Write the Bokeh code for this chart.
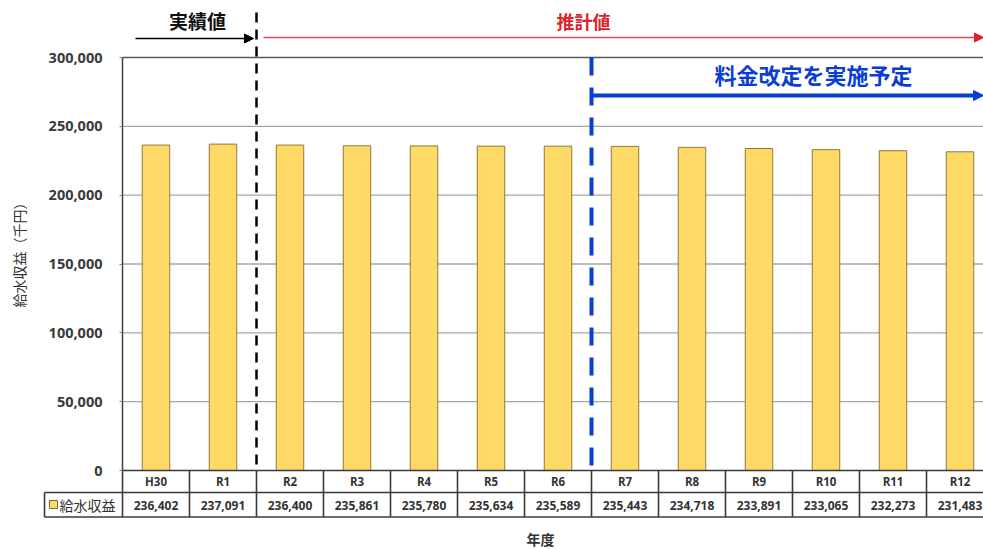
from bokeh.plotting import figure
from bokeh.models import Range1d, FixedTicker, NumeralTickFormatter, Arrow, NormalHead, ColumnDataSource
from bokeh.core.properties import value
from bokeh.embed import file_html
from bokeh.resources import INLINE
import math

# ---- data ----
categories = ["H30", "R1", "R2", "R3", "R4", "R5", "R6", "R7", "R8", "R9", "R10", "R11", "R12"]
revenue = [236402, 237091, 236400, 235861, 235780, 235634, 235589, 235443, 234718, 233891, 233065, 232273, 231483]
yticks = [0, 50000, 100000, 150000, 200000, 250000, 300000]
series_name = "給水収益"
y_title = "給水収益（千円）"
x_title = "年度"
actual_label = "実績値"
forecast_label = "推計値"
revision_label = "料金改定を実施予定"
actual_end = 1.5      # boundary between R1 and R2
revision_start = 6.5  # boundary between R6 and R7

# ---- layout helpers (pixel -> data) ----
W, H = 983, 549
COL = 67.0
LEFT = 122.0
TOP, BOT = 57.0, 470.0
YMAX = 300000.0

def xd(px):
    return -0.5 + (px - LEFT) / COL

def yd(py):
    return YMAX - (py - TOP) * YMAX / (BOT - TOP)

JP = value("Noto Sans CJK JP")
NUM = value("Open Sans")

p = figure(width=W, height=H, x_range=Range1d(xd(0), xd(W)), y_range=Range1d(yd(H), yd(0)),
           output_backend="svg", toolbar_location=None, min_border=0)
p.outline_line_color = None
p.background_fill_color = "white"
p.border_fill_color = "white"
p.grid.visible = False
p.xaxis.visible = False

ya = p.yaxis[0]
ya.fixed_location = -0.5
ya.ticker = FixedTicker(ticks=yticks)
ya.formatter = NumeralTickFormatter(format="0,0")
ya.axis_line_color = None
ya.major_tick_in = 0
ya.major_tick_out = 3
ya.major_tick_line_color = "#808080"
ya.minor_tick_line_color = None
ya.major_label_standoff = 17
ya.major_label_text_font = "Open Sans"
ya.major_label_text_font_style = "bold"
ya.major_label_text_font_size = "14.5px"
ya.major_label_text_color = "#3a3a3a"

n = len(categories)
xr = xd(W)

# gridlines
mid = [t for t in yticks if 0 < t < YMAX]
p.segment(x0=[-0.5] * len(mid), y0=mid, x1=[xr] * len(mid), y1=mid, line_color="#a6a6a6", line_width=1.3)
# frame top and left
p.segment(x0=[-0.5], y0=[YMAX], x1=[xr], y1=[YMAX], line_color="#595959", line_width=1.5)
p.segment(x0=[-0.5], y0=[0], x1=[-0.5], y1=[YMAX], line_color="#404040", line_width=1.5)

# bars
src = ColumnDataSource(dict(x=list(range(n)), top=revenue))
p.vbar(x="x", top="top", bottom=0, width=0.41, source=src,
       fill_color="#FFD966", line_color="#8f7a3a", line_width=1)

# data table below
r1_top, r1_bot, r2_bot = yd(470), yd(492), yd(516.5)
tc = "#3a3a3a"
p.segment(x0=[-0.5, -0.5, xd(44)], y0=[r1_top, r1_bot, r2_bot], x1=[xr, xr, xr], y1=[r1_top, r1_bot, r2_bot],
          line_color=tc, line_width=1.6)
bx = [i - 0.5 for i in range(n + 1)]
p.segment(x0=bx, y0=[r1_top] * len(bx), x1=bx, y1=[r2_bot] * len(bx), line_color=tc, line_width=1.6)
p.segment(x0=[xd(44), xd(44)], y0=[r1_bot, r1_bot], x1=[xd(44), -0.5], y1=[r2_bot, r1_bot], line_color=tc, line_width=1.6)

p.text(x=list(range(n)), y=[yd(481)] * n, text=categories, text_align="center", text_baseline="middle",
       text_font=NUM, text_font_style="bold", text_font_size="11.5px", text_color="#333333")
p.text(x=list(range(n)), y=[yd(504.5)] * n, text=[f"{v:,}" for v in revenue], text_align="center",
       text_baseline="middle", text_font=NUM, text_font_style="bold", text_font_size="12px", text_color="#333333")
p.rect(x=[xd(53)], y=[yd(504)], width=8, height=8, width_units="screen", height_units="screen",
       fill_color="#FFD966", line_color="#7f6a2a", line_width=1)
p.text(x=[xd(59)], y=[yd(504.5)], text=[series_name], text_align="left", text_baseline="middle",
       text_font=JP, text_font_size="14px", text_color="#333333")

# axis titles
p.text(x=[xd(18)], y=[yd(251)], text=[y_title], angle=math.pi / 2, text_align="center", text_baseline="middle",
       text_font=JP, text_font_size="14px", text_color="#333333")
p.text(x=[xd(540)], y=[yd(538)], text=[x_title], text_align="center", text_baseline="middle",
       text_font=JP, text_font_style="bold", text_font_size="14px", text_color="#333333")

# vertical dividers
p.segment(x0=[actual_end], y0=[yd(12)], x1=[actual_end], y1=[0], line_color="black", line_width=2.5, line_dash="10 7")
p.segment(x0=[revision_start], y0=[YMAX], x1=[revision_start], y1=[0], line_color="#0a3cd6", line_width=4, line_dash="18 12")

# arrows and labels above
p.add_layout(Arrow(end=NormalHead(size=9, fill_color="black", line_color="black"),
                   x_start=xd(135), y_start=yd(38), x_end=xd(253), y_end=yd(38), line_color="black", line_width=1.5))
p.add_layout(Arrow(end=NormalHead(size=9, fill_color="#e0202a", line_color="#e0202a"),
                   x_start=xd(263), y_start=yd(37), x_end=xd(983), y_end=yd(37), line_color="#d84a55", line_width=1.3))
p.add_layout(Arrow(end=NormalHead(size=10, fill_color="#0a3cd6", line_color="#0a3cd6"),
                   x_start=revision_start, y_start=yd(95), x_end=xd(983), y_end=yd(95), line_color="#0a3cd6", line_width=4))

p.text(x=[xd(197)], y=[yd(20)], text=[actual_label], text_align="center", text_baseline="middle",
       text_font=JP, text_font_style="bold", text_font_size="19px", text_color="#111111")
p.text(x=[xd(583)], y=[yd(20)], text=[forecast_label], text_align="center", text_baseline="middle",
       text_font=JP, text_font_style="bold", text_font_size="18px", text_color="#e0202a")
p.text(x=[xd(813)], y=[yd(73)], text=[revision_label], text_align="center", text_baseline="middle",
       text_font=JP, text_font_style="bold", text_font_size="22px", text_color="#0a3cd6")

open("out.html", "w").write(file_html(p, INLINE))
